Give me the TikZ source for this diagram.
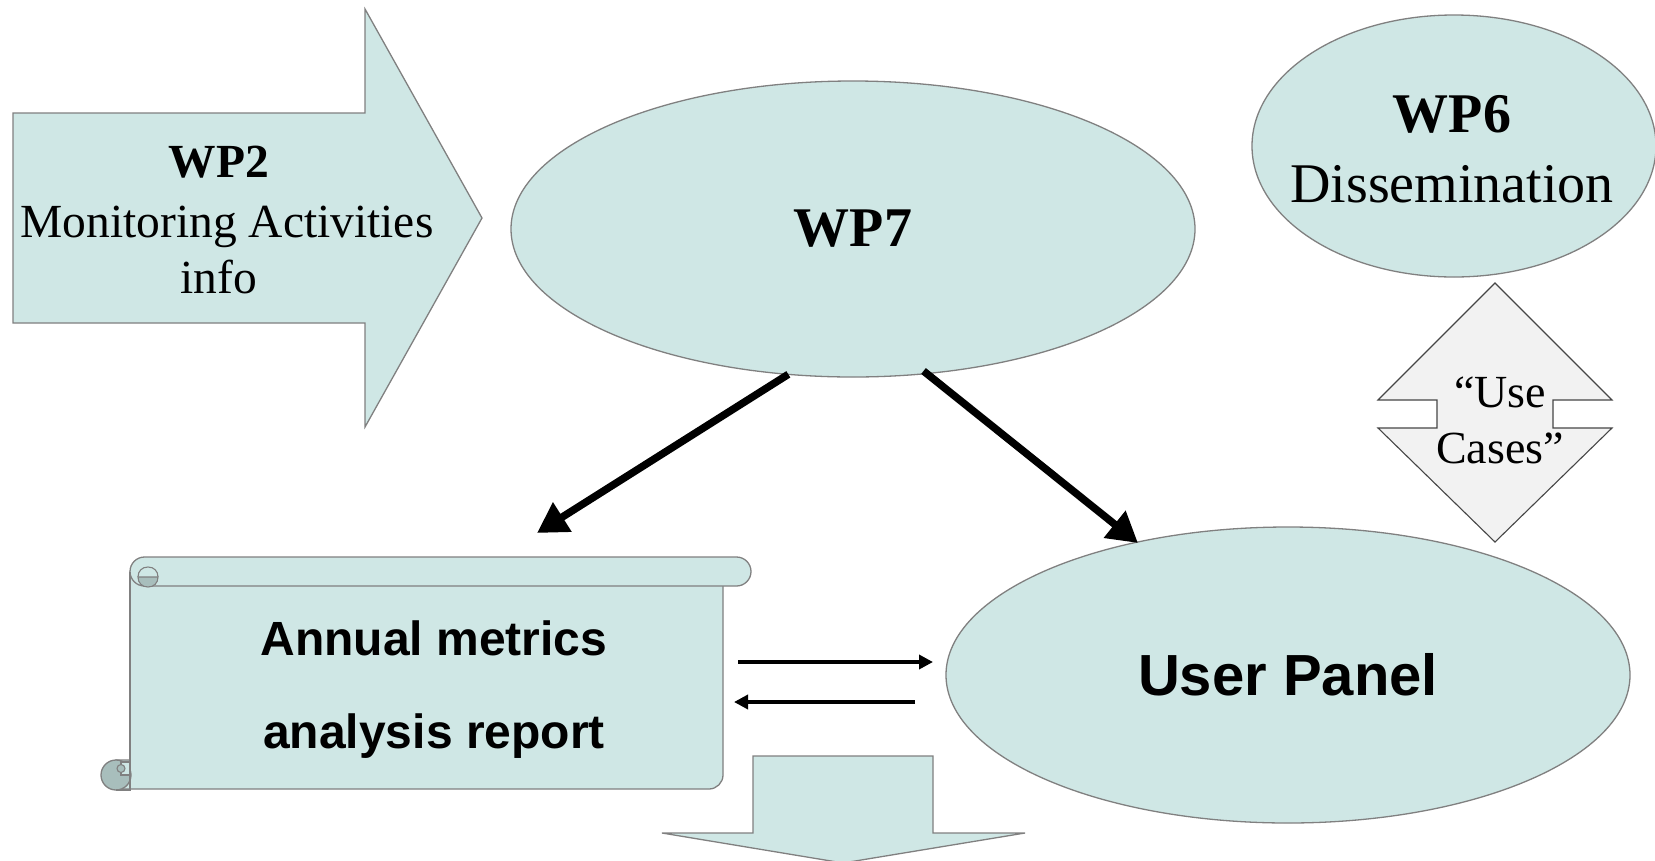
\documentclass[tikz,border=0pt]{standalone}
\usepackage{fontspec}
\setmainfont{Liberation Serif}
\newfontfamily\arialfont{Liberation Sans}
\usetikzlibrary{shapes.geometric,arrows.meta}
\definecolor{tealfill}{RGB}{207,231,229}
\definecolor{rolldark}{RGB}{168,190,188}
\definecolor{outl}{RGB}{128,128,128}
\definecolor{diafill}{RGB}{242,242,242}
\definecolor{diaoutl}{RGB}{70,70,70}
\begin{document}
\begin{tikzpicture}[x=1pt,y=-1pt,
  shapebox/.style={draw=outl,line width=1.3pt,fill=tealfill},
  ell/.style={shapebox,ellipse,inner sep=0pt,outer sep=0pt},
  serifbig/.style={font=\fontsize{56}{70}\selectfont},
  serifmid/.style={font=\fontsize{47.5}{58}\selectfont},
  bigarrow/.style={line width=7.5pt,-{Triangle[length=30pt,width=33pt]}},
  thinarrow/.style={line width=4.5pt,-{Triangle[length=14pt,width=14pt]}},
  txt/.style={inner sep=0pt,outer sep=0pt}]
\useasboundingbox[fill=white] (0,0) rectangle (1655,860);

% WP2 block arrow
\draw[shapebox] (13,113) -- (365,113) -- (365,9) -- (482,218) -- (365,427) -- (365,323) -- (13,323) -- cycle;
\node[txt,serifmid,anchor=base] (wp2a) at (219,177) {\bfseries WP2};
\node[txt,serifmid,anchor=base] (wp2b) at (227,237) {Monitoring Activities};
\node[txt,serifmid,anchor=base] (wp2c) at (219,293) {info};

% WP7
\node[ell,minimum width=684pt,minimum height=296pt,serifbig] (wp7) at (853,229) {\bfseries WP7};

% WP6
\node[ell,minimum width=404pt,minimum height=262pt] (wp6) at (1454,146) {};
\node[txt,serifbig,align=center] (wp6t) at (1452,149) {\bfseries WP6\\Dissemination};

% Use cases up-down arrow
\draw[fill=diafill,draw=diaoutl,line width=1.1pt] (1378,400) -- (1495,283) -- (1612,400) -- (1553,400) -- (1553,428) -- (1612,428) -- (1495,542) -- (1378,428) -- (1437,428) -- (1437,400) -- cycle;
\node[txt,font=\fontsize{46}{56}\selectfont,align=center] (uc) at (1500,420) {“Use\\Cases”};

% User Panel
\node[ell,minimum width=684pt,minimum height=296pt,font=\fontsize{58}{70}\selectfont\arialfont\bfseries] (up) at (1288,675) {User Panel};

% Scroll
\draw[shapebox] (130,572) -- (723,572) -- (723,775) .. controls (723,782.7) and (716.7,789) .. (709,789) -- (116,789) -- (116,760) -- (130,760) -- cycle;
\draw[shapebox] (144.5,557) -- (736.5,557) .. controls (744.5,557) and (751,563.5) .. (751,571.5) .. controls (751,579.5) and (744.5,586) .. (736.5,586) -- (144.5,586) .. controls (136.5,586) and (130,579.5) .. (130,571.5) .. controls (130,563.5) and (136.5,557) .. (144.5,557) -- cycle;
\draw[draw=outl,line width=1.1pt,fill=rolldark] (138,577) .. controls (138,583) and (142,587) .. (148,587) .. controls (154,587) and (158,583) .. (158,577) -- cycle;
\draw[draw=outl,line width=1.1pt] (158,577) .. controls (158,571) and (154,567) .. (148,567) .. controls (142,567) and (138,571) .. (138,577);
\draw[draw=outl,line width=1.3pt] (130,571.5) -- (130,760);
\draw[draw=outl,line width=1.3pt,fill=rolldark] (116,775) circle (15);
\draw[draw=outl,line width=1.1pt,fill=tealfill] (130,762) -- (121,762) -- (121,775) -- (130,775);
\draw[draw=outl,line width=1.1pt,fill=rolldark] (121,768.5) circle (4);
\draw[draw=outl,line width=1.3pt] (116,790) -- (130,790) -- (130,760);
\node[txt,font=\fontsize{48}{93}\selectfont\arialfont\bfseries,align=center] (rep) at (434,690) {Annual metrics\\analysis report};

% Down block arrow at the bottom
\draw[shapebox] (753,756) -- (933,756) -- (933,833) -- (1025,833) -- (843,863) -- (662,833) -- (753,833) -- cycle;

% Connectors
\coordinate (repin) at (537,533);
\coordinate (upin) at (1138,543);
\draw[bigarrow] (wp7.246) -- (repin);
\draw[bigarrow,shorten <=-4pt] (wp7.297) -- (upin);
\coordinate (h1s) at (738,662);
\coordinate (h1e) at (933,662);
\coordinate (h2s) at (915,702);
\coordinate (h2e) at (734,702);
\draw[thinarrow] (h1s) -- (h1e);
\draw[thinarrow] (h2s) -- (h2e);
\end{tikzpicture}
\end{document}
